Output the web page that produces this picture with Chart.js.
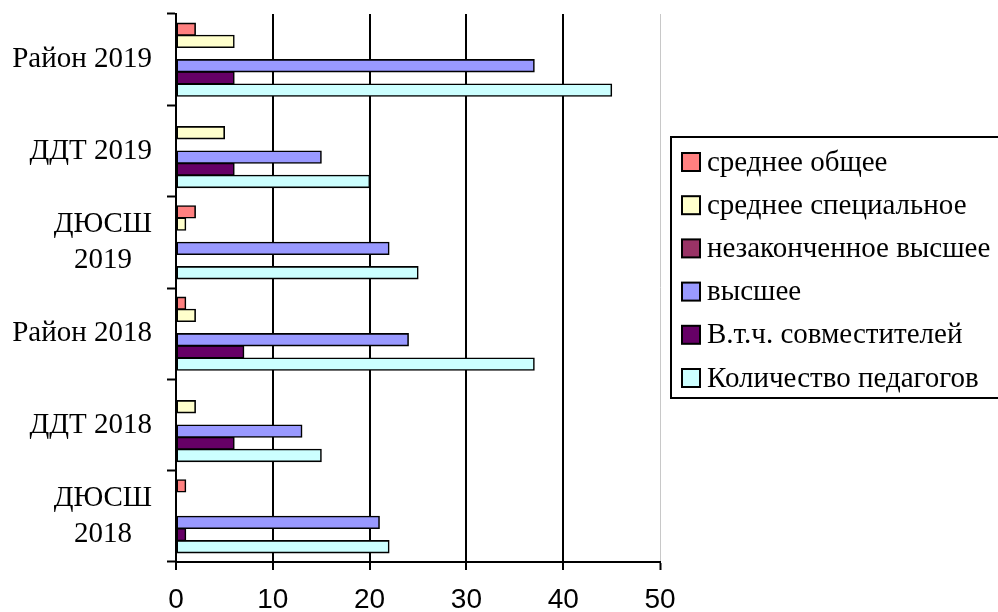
<!DOCTYPE html>
<html>
<head>
<meta charset="utf-8">
<script src="https://cdn.jsdelivr.net/npm/chart.js@4"></script>
<style>
    html, body { margin: 0; padding: 0; background: #fff; }
    #wrap { width: 998px; height: 612px; position: relative; }
</style>
</head>
<body>
<div id="wrap"><canvas id="chart"></canvas></div>
<script>
// Categories, top to bottom
const categories = [
    ['Район 2019'],
    ['ДДТ 2019'],
    ['ДЮСШ', '2019'],
    ['Район 2018'],
    ['ДДТ 2018'],
    ['ДЮСШ', '2018']
];

// Series values (same order as categories)
const sredneeObshee = [2, 0, 2, 1, 0, 1];
const sredneeSpec   = [6, 5, 1, 2, 2, 0];
const nezakVysshee  = [0, 0, 0, 0, 0, 0];
const vysshee       = [37, 15, 22, 24, 13, 21];
const sovmestiteli  = [6, 6, 0, 7, 6, 1];
const kolichestvo   = [45, 20, 25, 37, 15, 22];

const seriesNames = [
    'среднее общее',
    'среднее специальное',
    'незаконченное высшее',
    'высшее',
    'В.т.ч. совместителей',
    'Количество педагогов'
];
const seriesColors = ['#FF8080', '#FFFFCC', '#993366', '#9999FF', '#660066', '#CCFFFF'];
const seriesValues = [sredneeObshee, sredneeSpec, nezakVysshee, vysshee, sovmestiteli, kolichestvo];

const xTicks = [0, 10, 20, 30, 40, 50];

const SERIF = '"Liberation Serif", "Times New Roman", serif';
const SANS = '"Liberation Sans", Arial, sans-serif';

// Category labels: right-aligned block, lines centered within it
const categoryLabelPlugin = {
    id: 'categoryLabels',
    afterDraw: (chart) => {
        const ctx = chart.ctx;
        const yScale = chart.scales.y;
        const rightEdge = 152;
        const lineHeight = 36;

        ctx.save();
        ctx.font = '29px ' + SERIF;
        ctx.fillStyle = '#000';
        ctx.textAlign = 'center';
        ctx.textBaseline = 'middle';
        chart.data.labels.forEach((lines, i) => {
            const y = yScale.getPixelForValue(i);
            const maxW = Math.max(...lines.map(l => ctx.measureText(l).width));
            const cx = rightEdge - maxW / 2;
            const y0 = y - (lines.length - 1) * lineHeight / 2;
            lines.forEach((line, j) => {
                ctx.fillText(line, cx, y0 + j * lineHeight);
            });
        });
        ctx.restore();
    }
};

// Boxed legend on the right, running off the edge as in the original
const boxLegendPlugin = {
    id: 'boxLegend',
    afterDraw: (chart) => {
        const ctx = chart.ctx;
        const left = 671, top = 137, bottom = 398;
        const itemTop = 162, itemGap = 43.2;

        ctx.save();
        ctx.lineWidth = 2;
        ctx.strokeStyle = '#000';
        ctx.strokeRect(left, top, 1000 - left, bottom - top);

        ctx.font = '29px ' + SERIF;
        ctx.textAlign = 'left';
        ctx.textBaseline = 'middle';
        chart.data.datasets.forEach((ds, i) => {
            const y = itemTop + i * itemGap;
            ctx.fillStyle = ds.backgroundColor;
            ctx.fillRect(682, y - 9, 18, 18);
            ctx.strokeRect(682, y - 9, 18, 18);
            ctx.fillStyle = '#000';
            ctx.fillText(ds.label, 707, y + 1);
        });
        ctx.restore();
    }
};

new Chart(document.getElementById('chart'), {
    type: 'bar',
    data: {
        labels: categories,
        datasets: seriesNames.map((name, i) => ({
            label: name,
            data: seriesValues[i],
            backgroundColor: seriesColors[i],
            borderColor: '#000',
            borderWidth: 1.6,
            borderSkipped: false,
            inflateAmount: 0.6,
            categoryPercentage: 0.8,
            barPercentage: 1.0
        }))
    },
    options: {
        indexAxis: 'y',
        responsive: true,
        maintainAspectRatio: false,
        animation: false,
        devicePixelRatio: 1,
        layout: {
            padding: { left: 0, top: 14, right: 338, bottom: 0 }
        },
        plugins: {
            legend: { display: false },
            tooltip: { enabled: false }
        },
        scales: {
            x: {
                min: 0,
                max: 50,
                afterBuildTicks: (scale) => {
                    scale.ticks = xTicks.map(v => ({ value: v }));
                },
                afterFit: (scale) => { scale.height = 50; },
                ticks: {
                    color: '#000',
                    font: { family: SANS, size: 28 },
                    padding: 13,
                    maxRotation: 0
                },
                grid: {
                    color: (c) => {
                        if (c.tick && c.tick.value === 50) return '#c8c8c8';
                        return '#000';
                    },
                    lineWidth: (c) => (c.tick && c.tick.value === 50) ? 1 : 2,
                    tickColor: '#000',
                    tickWidth: 2,
                    tickLength: 8
                },
                border: { display: true, color: '#000', width: 2 }
            },
            y: {
                afterFit: (scale) => { scale.width = 176; },
                ticks: { display: false },
                grid: {
                    offset: true,
                    drawOnChartArea: false,
                    drawTicks: true,
                    tickColor: '#000',
                    tickWidth: 2,
                    tickLength: 9
                },
                border: { display: true, color: '#000', width: 2 }
            }
        }
    },
    plugins: [categoryLabelPlugin, boxLegendPlugin]
});
</script>
</body>
</html>
